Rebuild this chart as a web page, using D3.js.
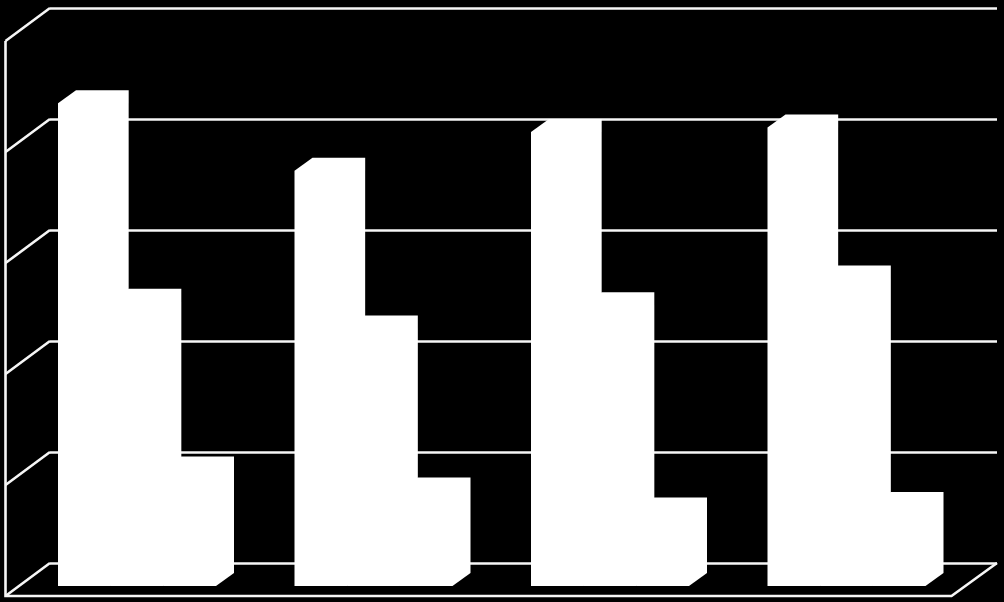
<!DOCTYPE html>
<html><head><meta charset="utf-8">
<style>html,body{margin:0;padding:0;background:#000;overflow:hidden}svg{display:block}</style>
<script src="https://cdnjs.cloudflare.com/ajax/libs/d3/7.8.5/d3.min.js"></script>
</head><body><svg id="c" width="1004" height="602"></svg>
<script>
const categories = ["A", "B", "C", "D"];
const seriesNames = ["S1", "S2", "S3"];
const series1 = [4.35, 3.74, 4.09, 4.13];
const series2 = [2.56, 2.32, 2.53, 2.77];
const series3 = [1.05, 0.86, 0.68, 0.73];
const tickValues = [0, 1, 2, 3, 4, 5];
const allSeries = [series1, series2, series3];

const W = 1004, H = 602;
const wallX = 5.5, backX = 50, backR = 997, depthX = backX - wallX, depthY = 33;
const barDepthX = 18, barDepthY = 13, barBackLift = 10;
const lineColor = "#f6f6f6", lineWidth = 2.6;

const svg = d3.select("#c").attr("viewBox", [0, 0, W, H]);
svg.append("rect").attr("width", W).attr("height", H).attr("fill", "#000");

const y = d3.scaleLinear().domain([0, 5]).range([563, 8]);
// category band along the front edge of the floor
const x0 = d3.scaleBand().domain(categories).range([wallX, wallX + 946]).paddingInner(0).paddingOuter(0);
const inner = d3.scaleBand().domain(seriesNames).range([52.5, 52.5 + 158]);

// back-wall gridlines
const axis = d3.axisLeft(y).tickValues(tickValues).tickSize(-(backR - backX)).tickFormat("");
const gAxis = svg.append("g").attr("transform", `translate(${backX},0)`).call(axis);
gAxis.select(".domain").remove();
gAxis.selectAll("line").attr("stroke", lineColor).attr("stroke-width", lineWidth);

// side-wall gridlines
svg.append("g").selectAll("line").data(tickValues).join("line")
  .attr("x1", wallX).attr("x2", backX)
  .attr("y1", d => y(d) + depthY).attr("y2", d => y(d))
  .attr("stroke", lineColor).attr("stroke-width", lineWidth);

// left wall edge, floor front and floor right edge
svg.append("path")
  .attr("d", d3.line()([
    [wallX, y(5) + depthY], [wallX, y(0) + depthY],
    [x0.range()[1], y(0) + depthY], [backR, y(0)]
  ]))
  .attr("fill", "none").attr("stroke", lineColor).attr("stroke-width", lineWidth);

// bars
const bars = categories.flatMap((c, i) => seriesNames.map((s, j) => ({c, s, v: allSeries[j][i]})));
const g = svg.append("g");
g.selectAll("path").data(bars).join("path")
  .attr("d", d => {
    const l = x0(d.c) + inner(d.s), r = l + inner.bandwidth();
    const base = y(0) + barBackLift + barDepthY;   // front base
    const topF = y(d.v) + barBackLift + barDepthY; // front top
    return d3.line()([
      [l, base], [r, base], [r + barDepthX, base - barDepthY],
      [r + barDepthX, topF - barDepthY], [l + barDepthX, topF - barDepthY], [l, topF]
    ]) + "Z";
  })
  .attr("fill", "#fff").attr("stroke", "none");
</script></body></html>
